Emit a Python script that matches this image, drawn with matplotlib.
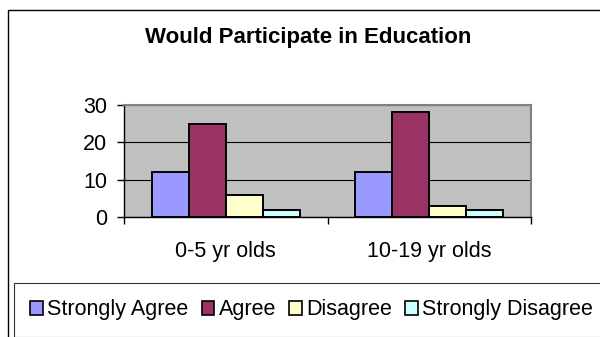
import numpy as np
import matplotlib
matplotlib.use("Agg")
import matplotlib.pyplot as plt
from matplotlib.patches import Rectangle

plt.rcParams['font.family'] = ['Liberation Sans', 'DejaVu Sans']

groups = ["0-5 yr olds", "10-19 yr olds"]
series = ["Strongly Agree", "Agree", "Disagree", "Strongly Disagree"]
values = {
    "Strongly Agree": [12, 12],
    "Agree": [25, 28],
    "Disagree": [6, 3],
    "Strongly Disagree": [2, 2],
}
colors = ["#9999FF", "#993366", "#FFFFCC", "#CCFFFF"]
yticks = [0, 10, 20, 30]

fs = 15.5

fig = plt.figure(figsize=(6, 3.37), dpi=100)
ax = fig.add_axes([124/600, 1 - 217/337, 407/600, 112/337])
ax.set_facecolor("#C0C0C0")

x = np.arange(len(groups))
w = 0.182
for i, s in enumerate(series):
    ax.bar(x + (i - 1.5) * w, values[s], w, color=colors[i], edgecolor="black",
           linewidth=1.4, label=s, zorder=3)

ax.set_xlim(-0.5, 1.5)
ax.set_ylim(0, 30)
ax.set_yticks(yticks)
ax.yaxis.grid(True, color="black", linewidth=0.8, zorder=1)
ax.set_axisbelow(True)

ax.set_xticks([-0.5, 0.5, 1.5])
ax.set_xticklabels([])
ax.set_xticks(x, minor=True)
ax.set_xticklabels(groups, minor=True)
ax.tick_params(axis="x", which="minor", length=0, pad=17, labelsize=fs)
ax.tick_params(axis="x", which="major", length=5, width=1, direction="out")
ax.tick_params(axis="y", length=5, width=1, pad=7, labelsize=fs)

for sp in ["top", "right"]:
    ax.spines[sp].set_color("#808080")
    ax.spines[sp].set_linewidth(1.5)
for sp in ["left", "bottom"]:
    ax.spines[sp].set_color("black")
    ax.spines[sp].set_linewidth(1)

fig.text(308/600, 1 - 37/337, "Would Participate in Education", ha="center",
         va="center", fontsize=16, fontweight="bold")

# outer chart border
fig.patches.append(Rectangle((8/600, -0.1), 1.2, 1 - 10/337 + 0.1, fill=False,
                             edgecolor="black", linewidth=1,
                             transform=fig.transFigure, clip_on=False))

leg = fig.legend(loc="center left", bbox_to_anchor=(14/600, 1 - 310/337), ncol=4,
                 fontsize=fs, frameon=True, fancybox=False, handlelength=0.6,
                 handleheight=0.6, handletextpad=0.2, columnspacing=0.6,
                 borderpad=0.75, borderaxespad=0)
leg.get_frame().set_edgecolor("black")
leg.get_frame().set_linewidth(0.8)
for h in leg.legend_handles:
    h.set_linewidth(1.2)

fig.savefig("out.png", dpi=100)
